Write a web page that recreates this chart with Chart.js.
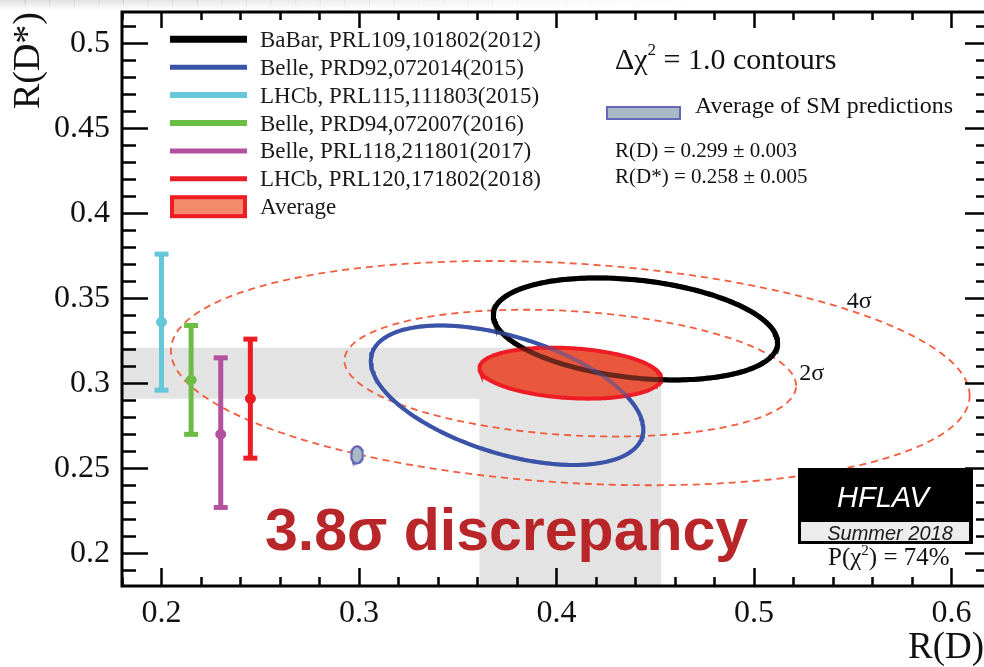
<!DOCTYPE html>
<html>
<head>
<meta charset="utf-8">
<title>R(D) vs R(D*)</title>
<script src="https://cdn.jsdelivr.net/npm/chart.js@4/dist/chart.umd.min.js"></script>
<style>
  html, body { margin: 0; padding: 0; background: #fff; }
  #wrap { width: 984px; height: 667px; position: relative; overflow: hidden; }
  canvas { display: block; }
</style>
</head>
<body>
<div id="wrap"><canvas id="c" width="984" height="667"></canvas></div>
<script>
// ---- R(D) / R(D*) results ----------------------------------------------
const legendLabels = [
  'BaBar, PRL109,101802(2012)',
  'Belle, PRD92,072014(2015)',
  'LHCb, PRL115,111803(2015)',
  'Belle, PRD94,072007(2016)',
  'Belle, PRL118,211801(2017)',
  'LHCb, PRL120,171802(2018)',
  'Average'
];

// 2D results: central values, total uncertainties and correlation
const ellipseNames  = ['BaBar 2012', 'Belle 2015', 'Average', 'SM'];
const ellipseRD     = [0.440, 0.375, 0.407, 0.299];
const ellipseRDErr  = [0.072, 0.069, 0.046, 0.003];
const ellipseRDs    = [0.332, 0.293, 0.306, 0.258];
const ellipseRDsErr = [0.030, 0.041, 0.015, 0.005];
const ellipseRho    = [-0.27, -0.49, -0.20, 0.0];

// R(D*)-only results, shown at fixed R(D) positions
const barNames = ['LHCb 2015', 'Belle 2016', 'Belle 2017', 'LHCb 2018'];
const barRD    = [0.200, 0.215, 0.230, 0.245];
const barRDs   = [0.336, 0.302, 0.270, 0.291];
const barErrHi = [0.040, 0.032, 0.045, 0.035];
const barErrLo = [0.040, 0.032, 0.043, 0.035];

// Contours of the average (2 d.o.f.)
const contourLabels    = ['2σ', '4σ'];
const contourDeltaChi2 = [6.18, 19.33];
const contourLabelRD   = [0.523, 0.547];
const contourLabelRDs  = [0.302, 0.3444];

// Axis ticks
const xTickValues = [0.2, 0.3, 0.4, 0.5, 0.6];
const yTickValues = [0.2, 0.25, 0.3, 0.35, 0.4, 0.45, 0.5];
const xRange = [0.18, 0.6165];
const yRange = [0.1808, 0.5184];

const discrepancyText = '3.8σ discrepancy';
const fitProbText = ['P(χ', '2', ') = 74%'];

// ---- styling --------------------------------------------------------------
const SERIF = '"Liberation Serif", "Times New Roman", serif';
const SANS = '"Liberation Sans", Arial, sans-serif';
const ellipseColors = ['#000000', '#3a52a8', '#ee1c24', '#6567b8'];
const barColors = ['#66c7db', '#6bbd45', '#b4519f', '#ec1c24'];
const legendColors = ['#000000', '#3a52a8', '#66c7db', '#6bbd45', '#b4519f', '#ec1c24'];
const legendWidths = [7, 5, 6, 6, 5, 5];

// Δχ² contour of a correlated 2D gaussian, scaled by k
function contourPoints(i, k) {
  const pts = [];
  const n = 240;
  const s = Math.sqrt(1 - ellipseRho[i] * ellipseRho[i]);
  for (let j = 0; j <= n; j++) {
    const t = 2 * Math.PI * j / n;
    pts.push({
      x: ellipseRD[i] + k * ellipseRDErr[i] * Math.cos(t),
      y: ellipseRDs[i] + k * ellipseRDsErr[i] * (ellipseRho[i] * Math.cos(t) + s * Math.sin(t))
    });
  }
  return pts;
}

const AVG = 2, SM = 3;
const datasets = [];

contourDeltaChi2.forEach((d2, i) => datasets.push({
  label: contourLabels[i],
  data: contourPoints(AVG, Math.sqrt(d2)),
  showLine: true, tension: 0, fill: false,
  borderColor: 'rgba(240,84,52,0.95)', borderWidth: 1.8, borderDash: [7, 5],
  pointRadius: 0, order: 20
}));

barNames.forEach((name, i) => datasets.push({
  label: name,
  data: [
    { x: barRD[i], y: barRDs[i] - barErrLo[i] },
    { x: barRD[i], y: barRDs[i] },
    { x: barRD[i], y: barRDs[i] + barErrHi[i] }
  ],
  showLine: true, tension: 0, fill: false,
  borderColor: barColors[i], borderWidth: 5,
  pointStyle: ['line', 'circle', 'line'],
  pointRadius: [7, 5, 7],
  pointBorderWidth: [5, 1, 5],
  pointBorderColor: barColors[i],
  pointBackgroundColor: barColors[i],
  order: 15
}));

[0, 1].forEach(i => datasets.push({
  label: ellipseNames[i],
  data: contourPoints(i, 1),
  showLine: true, tension: 0, fill: false,
  borderColor: ellipseColors[i], borderWidth: i === 0 ? 5 : 4,
  borderCapStyle: 'round', borderJoinStyle: 'round',
  pointRadius: 0, order: 12 - i
}));

datasets.push({
  label: ellipseNames[SM],
  data: contourPoints(SM, 1),
  showLine: true, tension: 0, fill: 'shape',
  backgroundColor: '#a9b9c6', borderColor: ellipseColors[SM], borderWidth: 2,
  pointRadius: 0, order: 10
});

datasets.push({
  label: ellipseNames[AVG],
  data: contourPoints(AVG, 1),
  showLine: true, tension: 0, fill: 'shape',
  backgroundColor: '#e9573c', borderColor: ellipseColors[AVG], borderWidth: 4,
  pointRadius: 0, order: 9
});

// the two 2D measurements seen through the average
[0, 1].forEach(i => datasets.push({
  label: ellipseNames[i] + ' (over average)',
  data: contourPoints(i, 1),
  showLine: true, tension: 0, fill: false,
  borderColor: i === 0 ? 'rgba(0,0,0,0.55)' : 'rgba(58,82,168,0.5)',
  borderWidth: i === 0 ? 5 : 4,
  pointRadius: 0, order: 8 - i
}));

// ---- plugins ---------------------------------------------------------------
const background = {
  id: 'background',
  beforeDraw(chart) {
    const { ctx, width } = chart;
    ctx.save();
    ctx.fillStyle = '#fff';
    ctx.fillRect(0, 0, width, chart.height);
    const strips = 40;
    for (let k = 0; k < strips; k++) {
      const x0 = width * k / strips;
      const fade = Math.max(0, 1 - k / (strips * 0.7));
      const g = ctx.createLinearGradient(0, 0, 0, 10);
      g.addColorStop(0, 'rgba(0,0,0,' + (0.13 * fade).toFixed(3) + ')');
      g.addColorStop(1, 'rgba(0,0,0,0)');
      ctx.fillStyle = g;
      ctx.fillRect(x0, 0, width / strips + 1, 10);
    }
    ctx.restore();
  }
};

const averageBands = {
  id: 'averageBands',
  beforeDatasetsDraw(chart) {
    const { ctx, scales: { x, y } } = chart;
    ctx.save();
    ctx.fillStyle = '#e3e3e3';
    // R(D*) band from the left edge to the average
    const hx0 = x.getPixelForValue(x.min), hx1 = x.getPixelForValue(ellipseRD[AVG]);
    const hy0 = y.getPixelForValue(ellipseRDs[AVG] + ellipseRDsErr[AVG]);
    const hy1 = y.getPixelForValue(ellipseRDs[AVG] - ellipseRDsErr[AVG]);
    ctx.fillRect(hx0, hy0, hx1 - hx0, hy1 - hy0);
    // R(D) band from the bottom edge to the average
    const vx0 = x.getPixelForValue(ellipseRD[AVG] - ellipseRDErr[AVG]);
    const vx1 = x.getPixelForValue(ellipseRD[AVG] + ellipseRDErr[AVG]);
    const vy0 = y.getPixelForValue(ellipseRDs[AVG]), vy1 = y.getPixelForValue(y.min);
    ctx.fillRect(vx0, vy0, vx1 - vx0, vy1 - vy0);
    ctx.restore();
  }
};

const frameTicks = {
  id: 'frameTicks',
  afterDatasetsDraw(chart) {
    const { ctx, chartArea: a, scales: { x, y } } = chart;
    ctx.save();
    ctx.strokeStyle = '#000';
    ctx.lineWidth = 2.5;
    ctx.lineCap = 'butt';
    ctx.beginPath();
    for (let i = 9; i <= 31; i++) {
      const v = i * 0.02;
      if (v < x.min - 1e-9 || v > x.max + 1e-9) continue;
      const px = Math.round(x.getPixelForValue(v)) + 0.5;
      const major = i % 5 === 0;
      ctx.moveTo(px, a.bottom); ctx.lineTo(px, a.bottom - (major ? 18 : 9));
      ctx.moveTo(px, a.top); ctx.lineTo(px, a.top + (major ? 16 : 8));
    }
    for (let i = 18; i <= 52; i++) {
      const v = i * 0.01;
      if (v < y.min - 1e-9 || v > y.max + 1e-9) continue;
      const py = Math.round(y.getPixelForValue(v)) + 0.5;
      const major = i % 5 === 0;
      ctx.moveTo(a.left, py); ctx.lineTo(a.left + (major ? 26 : 14), py);
      ctx.moveTo(a.right + 2, py); ctx.lineTo(a.right - (major ? 19 : 8), py);
    }
    ctx.stroke();
    // left, top and bottom axis lines; the right one sits on the page edge
    ctx.lineWidth = 3;
    ctx.beginPath();
    ctx.moveTo(a.right + 2, a.top); ctx.lineTo(a.left, a.top);
    ctx.lineTo(a.left, a.bottom); ctx.lineTo(a.right + 2, a.bottom);
    ctx.stroke();
    ctx.restore();
  }
};

function drawParts(ctx, parts, x, y) {
  let cx = x;
  parts.forEach(p => {
    ctx.font = (p.style || '') + ' ' + p.size + 'px ' + (p.family || SERIF);
    ctx.fillText(p.t, cx, y + (p.dy || 0));
    cx += ctx.measureText(p.t).width + (p.gap || 0);
  });
  return cx;
}

const annotations = {
  id: 'annotations',
  afterDatasetsDraw(chart) {
    const { ctx, scales: { x, y } } = chart;
    ctx.save();
    ctx.textBaseline = 'alphabetic';
    ctx.textAlign = 'left';

    // legend
    const rowTop = 39.3, rowStep = 27.9;
    for (let i = 0; i < 6; i++) {
      const ry = rowTop + i * rowStep;
      ctx.strokeStyle = legendColors[i];
      ctx.lineWidth = legendWidths[i];
      ctx.beginPath(); ctx.moveTo(170, ry); ctx.lineTo(247, ry); ctx.stroke();
    }
    const ay = rowTop + 6 * rowStep;
    ctx.fillStyle = '#f38a6c';
    ctx.fillRect(172, ay - 9.5, 73, 19);
    ctx.strokeStyle = '#ee1c24'; ctx.lineWidth = 4;
    ctx.strokeRect(172, ay - 9.5, 73, 19);
    ctx.fillStyle = '#1a1a1a';
    ctx.font = '23px ' + SERIF;
    legendLabels.forEach((t, i) => ctx.fillText(t, 260, rowTop + i * rowStep + 7.5, 281));

    // contour information
    ctx.fillStyle = '#111';
    drawParts(ctx, [
      { t: 'Δχ', size: 30 },
      { t: '2', size: 17, dy: -14 },
      { t: ' = 1.0 contours', size: 30 }
    ], 615, 69);

    ctx.fillStyle = '#a9b9c6';
    ctx.fillRect(607, 107, 73, 12);
    ctx.strokeStyle = ellipseColors[SM]; ctx.lineWidth = 2;
    ctx.strokeRect(607, 107, 73, 12);
    ctx.fillStyle = '#111';
    ctx.font = '24px ' + SERIF;
    ctx.fillText('Average of SM predictions', 695, 113, 258);
    ctx.font = '21px ' + SERIF;
    ctx.fillText('R(D) = ' + ellipseRD[SM].toFixed(3) + ' ± ' + ellipseRDErr[SM].toFixed(3), 615, 157, 187);
    ctx.fillText('R(D*) = ' + ellipseRDs[SM].toFixed(3) + ' ± ' + ellipseRDsErr[SM].toFixed(3), 615, 183, 197);

    // contour labels
    ctx.font = '24px ' + SERIF;
    contourLabels.forEach((t, i) => {
      ctx.fillText(t, x.getPixelForValue(contourLabelRD[i]), y.getPixelForValue(contourLabelRDs[i]));
    });

    // significance
    ctx.fillStyle = '#b8262a';
    ctx.font = 'bold 59px ' + SANS;
    ctx.fillText(discrepancyText, 265, 550);

    // collaboration box
    ctx.fillStyle = '#000';
    ctx.fillRect(798, 468, 175, 76);
    ctx.fillStyle = '#ececec';
    ctx.fillRect(801, 522, 168, 19);
    ctx.textAlign = 'center';
    ctx.fillStyle = '#fff';
    ctx.font = 'italic 29px ' + SANS;
    ctx.fillText('HFLAV', 883, 507);
    ctx.fillStyle = '#1a1a1a';
    ctx.font = 'italic 20px ' + SANS;
    ctx.fillText('Summer 2018', 890, 540);
    ctx.textAlign = 'left';
    ctx.fillStyle = '#111';
    drawParts(ctx, [
      { t: fitProbText[0], size: 25 },
      { t: fitProbText[1], size: 15, dy: -10 },
      { t: fitProbText[2], size: 25 }
    ], 828, 565);
    ctx.restore();
  }
};

// ---- chart ----------------------------------------------------------------
const fmt = v => String(parseFloat(v.toFixed(2)));

new Chart(document.getElementById('c'), {
  type: 'scatter',
  data: { datasets },
  options: {
    responsive: false,
    animation: false,
    devicePixelRatio: 1,
    events: [],
    layout: { autoPadding: false, padding: { top: 12, right: 0, bottom: 0, left: 0 } },
    plugins: { legend: { display: false }, tooltip: { enabled: false } },
    elements: { line: { tension: 0 } },
    scales: {
      x: {
        type: 'linear', position: 'bottom',
        min: xRange[0], max: xRange[1],
        afterBuildTicks: s => { s.ticks = xTickValues.map(v => ({ value: v })); },
        afterFit: s => { s.height = 81; s.paddingLeft = 0; s.paddingRight = 0; },
        grid: { display: false, drawTicks: false },
        border: { display: false },
        ticks: {
          callback: v => fmt(v), maxRotation: 0, autoSkip: false, padding: 8,
          color: '#111', font: { family: SERIF, size: 32, lineHeight: 1.2 }
        },
        title: {
          display: true, text: 'R(D)', align: 'end', color: '#111',
          font: { family: SERIF, size: 37, lineHeight: 1 }, padding: { top: 0, bottom: 0 }
        }
      },
      y: {
        type: 'linear', position: 'left',
        min: yRange[0], max: yRange[1],
        afterBuildTicks: s => { s.ticks = yTickValues.map(v => ({ value: v })); },
        afterFit: s => { s.width = 122; s.paddingTop = 0; s.paddingBottom = 0; },
        grid: { display: false, drawTicks: false },
        border: { display: false },
        ticks: {
          callback: v => fmt(v), autoSkip: false, padding: 12,
          color: '#111', font: { family: SERIF, size: 32, lineHeight: 1.2 }
        },
        title: {
          display: true, text: 'R(D*)', align: 'end', color: '#111',
          font: { family: SERIF, size: 38, lineHeight: 1 }, padding: { top: 10, bottom: 0 }
        }
      }
    }
  },
  plugins: [background, averageBands, frameTicks, annotations]
});
</script>
</body>
</html>
